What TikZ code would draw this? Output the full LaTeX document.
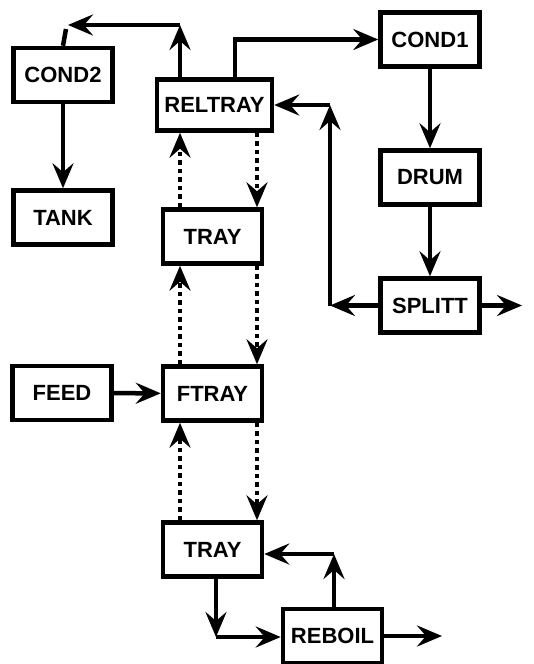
\documentclass[tikz,border=0pt]{standalone}
\usepackage{fontspec}
\setmainfont{Liberation Sans}
\usetikzlibrary{arrows.meta,calc}
\begin{document}
\begin{tikzpicture}[x=1pt,y=-1pt,
  box/.style={draw,line width=4.5pt,minimum width=99pt,minimum height=54pt,inner sep=0pt,font=\bfseries\fontsize{22}{22}\selectfont},
  arr/.style={line width=4.5pt,-{Stealth[length=25pt,width=21pt,inset=9pt]}},
  plain/.style={line width=4.5pt},
  dotarr/.style={arr,dash pattern=on 4.5pt off 4pt}]
\useasboundingbox (0,0) rectangle (533,664);
\node[box] (cond2) at (63,75) {COND2};
\node[box,minimum width=115pt,minimum height=51pt] (reltray) at (214.5,105) {RELTRAY};
\node[box] (cond1) at (430,39.5) {COND1};
\node[box] (drum) at (430,177.5) {DRUM};
\node[box] (splitt) at (430,305.5) {SPLITT};
\node[box] (tank) at (63,217.5) {TANK};
\node[box] (tray1) at (212.5,236.5) {TRAY};
\node[box] (feed) at (62,393) {FEED};
\node[box] (ftray) at (212.5,393.5) {FTRAY};
\node[box] (tray2) at (212.5,549.5) {TRAY};
\node[box] (reboil) at (332.5,636) {REBOIL};
\coordinate (cl) at (180,0);
\coordinate (cr) at (257,0);
\coordinate (topc) at (180,25);
\coordinate (c2end) at (68,25);
\coordinate (tick) at (66,29);
\coordinate (c1x) at (235,40);
\coordinate (sp) at (330,305.5);
\coordinate (spc) at (330,105);
\coordinate (sout) at (522,305.5);
\coordinate (tb) at (216,637);
\coordinate (rb) at (334,554);
\coordinate (rout) at (442,636);
% top connections
\draw[arr] (reltray.north -| cl) -- (topc);
\draw[arr] (topc) -- (c2end);
\draw[plain] (tick) -- (cond2.north);
\draw[arr] (reltray.north -| c1x) |- (cond1.west);
\draw[arr] (cond1) -- (drum);
\draw[arr] (drum) -- (splitt);
\draw[arr] (splitt.west) -- (sp);
\draw[arr] (sp) -- (spc);
\draw[arr] (spc) -- (reltray.east |- spc);
\draw[arr] (splitt.east) -- (sout);
\draw[arr] (cond2) -- (tank);
% dotted column
\draw[dotarr] (tray1.north -| cl) -- (reltray.south -| cl);
\draw[dotarr] (reltray.south -| cr) -- (tray1.north -| cr);
\draw[dotarr] (ftray.north -| cl) -- (tray1.south -| cl);
\draw[dotarr] (tray1.south -| cr) -- (ftray.north -| cr);
\draw[dotarr] (tray2.north -| cl) -- (ftray.south -| cl);
\draw[dotarr] (ftray.south -| cr) -- (tray2.north -| cr);
\draw[arr] (feed) -- (ftray);
% bottom
\draw[arr] (tray2.south -| tb) -- (tb);
\draw[arr] (tb) -- (reboil.west |- tb);
\draw[arr] (reboil.north -| rb) -- (rb);
\draw[arr] (rb) -- (tray2.east |- rb);
\draw[arr] (reboil.east) -- (rout);
\end{tikzpicture}
\end{document}
